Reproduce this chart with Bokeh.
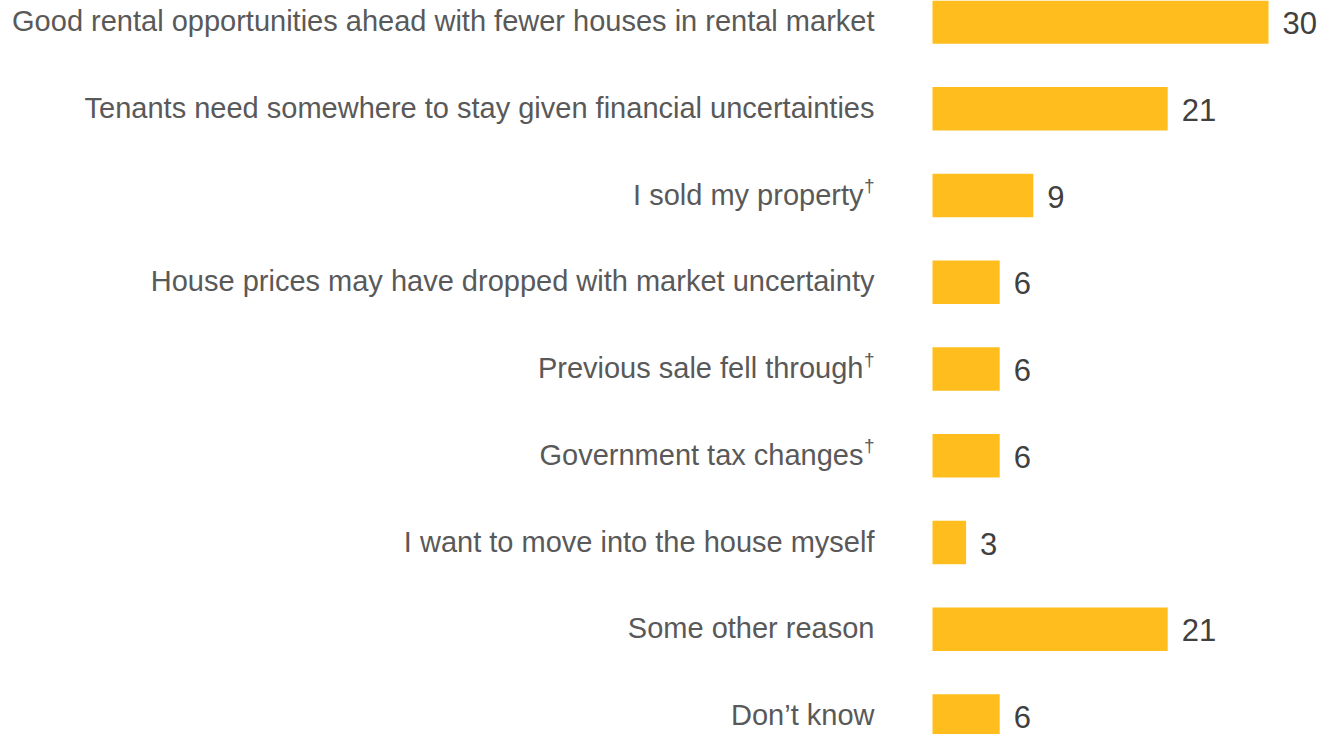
from bokeh.plotting import figure
from bokeh.models import ColumnDataSource, Range1d
from bokeh.core.properties import value
from bokeh.embed import file_html
from bokeh.resources import INLINE

categories = [
    "Good rental opportunities ahead with fewer houses in rental market",
    "Tenants need somewhere to stay given financial uncertainties",
    "I sold my property",
    "House prices may have dropped with market uncertainty",
    "Previous sale fell through",
    "Government tax changes",
    "I want to move into the house myself",
    "Some other reason",
    "Don\u2019t know",
]
footnote = [False, False, True, False, True, True, False, False, False]
values = [30, 21, 9, 6, 6, 6, 3, 21, 6]

BAR = "#FFBE1E"
LABEL = "#595959"
VAL = "#404040"
FONT = "Liberation Sans"

idx = list(range(len(categories)))
src = ColumnDataSource(dict(
    y=idx, v=values, cat=categories,
    vtxt=[str(v) for v in values],
    zero=[0] * len(values),
))
plain = ColumnDataSource(dict(
    y=[i for i in idx if not footnote[i]],
    cat=[categories[i] for i in idx if not footnote[i]],
    zero=[0] * sum(1 for f in footnote if not f),
))
foot = ColumnDataSource(dict(
    y=[i for i in idx if footnote[i]],
    cat=[categories[i] for i in idx if footnote[i]],
    mark=["\u2020" for i in idx if footnote[i]],
    zero=[0] * sum(1 for f in footnote if f),
))

W, H = 1322, 734
p = figure(width=W, height=H, output_backend="svg", toolbar_location=None,
           x_range=Range1d(-83.214, 34.821), y_range=Range1d(8.213, -0.2478),
           min_border=0, outline_line_color=None)
p.axis.visible = False
p.grid.visible = False
p.background_fill_color = "white"

p.hbar(y="y", left=0, right="v", height=0.5, source=src,
       fill_color=BAR, line_color=None)

p.text(x="v", y="y", text="vtxt", source=src, x_offset=14, y_offset=1,
       text_align="left", text_baseline="middle",
       text_font=value(FONT), text_font_size="31px", text_color=VAL)

p.text(x="zero", y="y", text="cat", source=plain, x_offset=-58, y_offset=-1,
       text_align="right", text_baseline="middle",
       text_font=value(FONT), text_font_size="29px", text_color=LABEL)

p.text(x="zero", y="y", text="cat", source=foot, x_offset=-69, y_offset=-1,
       text_align="right", text_baseline="middle",
       text_font=value(FONT), text_font_size="29px", text_color=LABEL)
p.text(x="zero", y="y", text="mark", source=foot, x_offset=-58, y_offset=-10,
       text_align="right", text_baseline="middle",
       text_font=value(FONT), text_font_size="19px", text_color=LABEL)

open("out.html", "w").write(file_html(p, INLINE))
